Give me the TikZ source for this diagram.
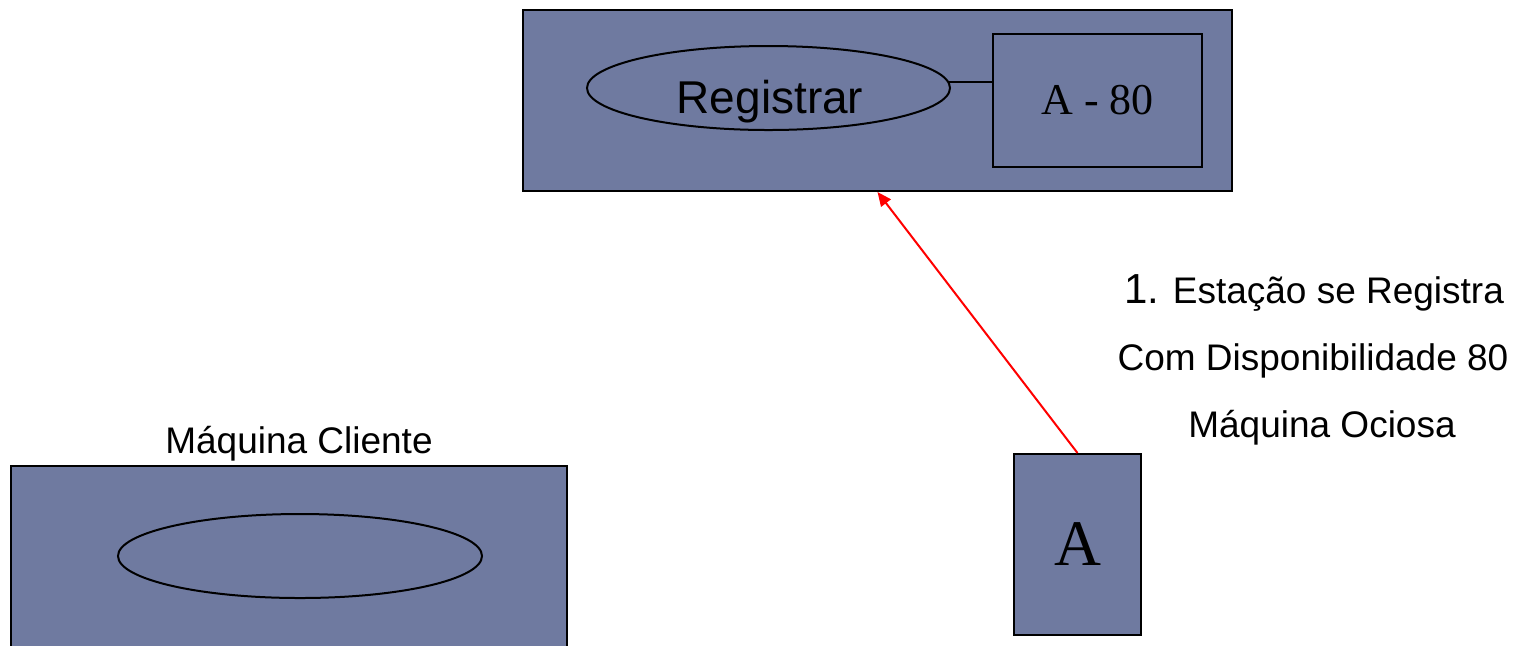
\documentclass[tikz,border=0pt]{standalone}
\usepackage{fontspec}
\setmainfont{Liberation Serif}
\setsansfont{Liberation Sans}
\usetikzlibrary{arrows.meta,shapes.geometric}
\definecolor{boxfill}{RGB}{111,122,160}
\tikzset{
  box/.style={draw=black, line width=1pt, fill=boxfill, rectangle, inner sep=0pt},
  oval/.style={draw=black, line width=1pt, ellipse, inner sep=0pt},
  lbl/.style={inner sep=0pt, anchor=base, font=\sffamily\fontsize{18.5}{22}\selectfont},
  conn/.style={draw=red, line width=1pt, -{Triangle[length=7pt,width=6pt]}},
}
\begin{document}
\begin{tikzpicture}[x=0.5pt,y=-0.5pt]
\clip (0,0) rectangle (1514,645);
\fill[white] (0,0) rectangle (1514,645);
% server box
\node[box, minimum width=354.5pt, minimum height=90.5pt] (srv) at (877.5,100.5) {};
\node[oval, minimum width=181.5pt, minimum height=42pt] (reg) at (768.5,88) {};
\node[inner sep=0pt, anchor=base, font=\sffamily\fontsize{23}{28}\selectfont] (regt) at (770,113) {Registrar};
\node[box, minimum width=104.5pt, minimum height=66.5pt, font=\fontsize{22}{26}\selectfont] (a80) at (1097.5,100.5) {A - 80};
\draw[line width=1pt] (reg.2) -- (reg.2 -| a80.west);
% client
\node[box, minimum width=278pt, minimum height=117pt] (cli) at (289,583) {};
\node[oval, minimum width=182pt, minimum height=42pt] (cliov) at (300,556) {};
\node[lbl] (clit) at (299,453) {Máquina Cliente};
% station A
\node[box, minimum width=63.5pt, minimum height=90.5pt, font=\fontsize{32.5}{38}\selectfont] (sta) at (1077.5,544.5) {A};
% arrow
\draw[conn] (sta.north) -- (srv.south);
% labels
\node[lbl] (l1) at (1314,303) {{\fontsize{21}{24}\selectfont 1.} Estação se Registra};
\node[lbl] (l2) at (1313,370) {Com Disponibilidade 80};
\node[lbl] (l3) at (1322,437) {Máquina Ociosa};
\end{tikzpicture}
\end{document}
